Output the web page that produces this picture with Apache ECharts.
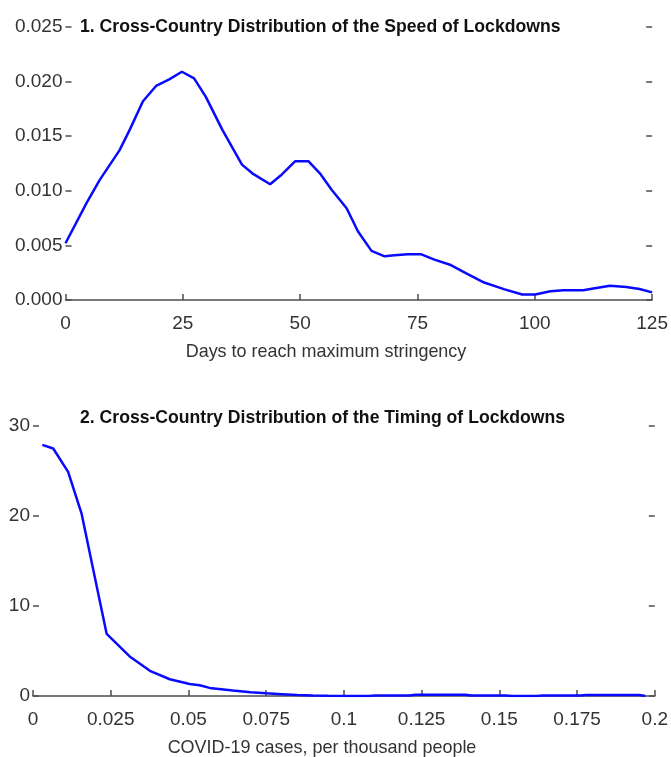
<!DOCTYPE html>
<html>
<head>
<meta charset="utf-8">
<script src="https://cdn.jsdelivr.net/npm/echarts@6/dist/echarts.min.js"></script>
<style>
  html, body { margin: 0; padding: 0; background: #fff; }
  #chart { width: 671px; height: 757px; }
</style>
</head>
<body>
<div id="chart"></div>
<script>
// Panel 1: density of days needed to reach maximum stringency
const speedDays = [0, 4.5, 7.3, 11.5, 13.7, 16.5, 19.3, 22.1, 24.8, 27.4, 29.9, 33.4, 37.6, 39.8, 43.6, 46.1, 48.9, 51.8, 54.2, 56.7, 59.9, 62.3, 65.2, 68.0, 70.1, 72.9, 75.7, 78.6, 82.1, 85.6, 89.2, 93.4, 97.3, 100.1, 103.3, 106.1, 110.3, 113.1, 116, 119.5, 122.3, 125];
const speedDensity = [0.0052, 0.0089, 0.0110, 0.0137, 0.0156, 0.0182, 0.0196, 0.0202, 0.0209, 0.0203, 0.0186, 0.0156, 0.0124, 0.0116, 0.0106, 0.0115, 0.0127, 0.0127, 0.0116, 0.0101, 0.0084, 0.0063, 0.0045, 0.0040, 0.0041, 0.0042, 0.0042, 0.0037, 0.0032, 0.0024, 0.0016, 0.0010, 0.0005, 0.0005, 0.0008, 0.0009, 0.0009, 0.0011, 0.0013, 0.0012, 0.0010, 0.0007];

// Panel 2: density of COVID-19 cases per thousand people at lockdown
const casesPerThousand = [0.003, 0.0065, 0.0113, 0.0156, 0.0194, 0.0237, 0.0311, 0.0376, 0.044, 0.0504, 0.0536, 0.0568, 0.0643, 0.070, 0.075, 0.080, 0.085, 0.090, 0.095, 0.1, 0.108, 0.110, 0.121, 0.123, 0.139, 0.141, 0.152, 0.154, 0.162, 0.164, 0.176, 0.178, 0.195, 0.197];
const casesDensity = [27.9, 27.5, 24.9, 20.3, 14.0, 6.9, 4.4, 2.8, 1.86, 1.33, 1.2, 0.9, 0.6, 0.42, 0.3, 0.2, 0.1, 0.05, 0.02, 0, 0, 0.05, 0.05, 0.15, 0.15, 0.05, 0.05, 0, 0, 0.05, 0.05, 0.12, 0.12, 0];

// Tick labels
const speedXTicks = [0, 25, 50, 75, 100, 125];
const speedYTicks = ['0.000', '0.005', '0.010', '0.015', '0.020', '0.025'];
const casesXTicks = ['0', '0.025', '0.05', '0.075', '0.1', '0.125', '0.15', '0.175', '0.2'];
const casesYTicks = ['0', '10', '20', '30'];

const titles = [
  '1. Cross-Country Distribution of the Speed of Lockdowns',
  '2. Cross-Country Distribution of the Timing of Lockdowns'
];
const axisNames = ['Days to reach maximum stringency', 'COVID-19 cases, per thousand people'];

const labelFont = 'Liberation Sans, Arial, sans-serif';
const titleFont = 'Liberation Sans, Arial, sans-serif';
const axisGray = '#4d4d4d';
const labelColor = '#333';
const lineBlue = '#0a0aff';

const chart = echarts.init(document.getElementById('chart'), null, { renderer: 'canvas' });

function xAxisCfg(gridIndex, min, max, interval, labels) {
  return {
    type: 'value', gridIndex, min, max, interval, z: 3,
    axisLine: { show: true, lineStyle: { color: axisGray, width: 1.5 } },
    axisTick: { show: true, inside: true, length: 6, lineStyle: { color: axisGray, width: 1.5 } },
    splitLine: { show: false },
    axisLabel: {
      margin: 14, color: labelColor, fontFamily: labelFont, fontSize: 19,
      formatter: (v) => {
        const i = Math.round((v - min) / interval);
        return labels[i] !== undefined ? String(labels[i]) : '';
      }
    }
  };
}

function yAxisCfg(gridIndex, min, max, interval, labels, position) {
  return {
    type: 'value', gridIndex, min, max, interval, position,
    axisLine: { show: false },
    axisTick: { show: true, inside: true, length: 6, lineStyle: { color: axisGray, width: 1.5 } },
    splitLine: { show: false },
    axisLabel: {
      show: position === 'left', margin: 3, color: labelColor, fontFamily: labelFont, fontSize: 19,
      formatter: (v) => {
        const i = Math.round((v - min) / interval);
        return labels[i] !== undefined ? labels[i] : '';
      }
    }
  };
}

// Condensed text block for panel titles and axis captions
function caption(text, x, y, font, align, scaleX, fill) {
  return {
    type: 'text', x, y, scaleX,
    style: { text, fill, font, align, verticalAlign: 'middle' }
  };
}

const option = {
  animation: false,
  backgroundColor: '#fff',
  grid: [
    { left: 65.5, right: 15, top: 27, height: 273 },
    { left: 33, right: 15, top: 426, height: 270 }
  ],
  xAxis: [
    xAxisCfg(0, 0, 125, 25, speedXTicks),
    xAxisCfg(1, 0, 0.2, 0.025, casesXTicks)
  ],
  yAxis: [
    yAxisCfg(0, 0, 0.025, 0.005, speedYTicks, 'left'),
    yAxisCfg(0, 0, 0.025, 0.005, speedYTicks, 'right'),
    yAxisCfg(1, 0, 30, 10, casesYTicks, 'left'),
    yAxisCfg(1, 0, 30, 10, casesYTicks, 'right')
  ],
  series: [
    {
      type: 'line', xAxisIndex: 0, yAxisIndex: 0, showSymbol: false, symbol: 'none',
      lineStyle: { color: lineBlue, width: 2.5 },
      data: speedDays.map((d, i) => [d, speedDensity[i]])
    },
    {
      type: 'line', xAxisIndex: 1, yAxisIndex: 2, showSymbol: false, symbol: 'none',
      lineStyle: { color: lineBlue, width: 2.5 },
      data: casesPerThousand.map((c, i) => [c, casesDensity[i]])
    }
  ],
  graphic: [
    caption(titles[0], 80, 27, 'bold 19px ' + titleFont, 'left', 0.927, '#111'),
    caption(titles[1], 80, 418, 'bold 19px ' + titleFont, 'left', 0.927, '#111'),
    caption(axisNames[0], 326, 352, '19px ' + labelFont, 'center', 0.946, labelColor),
    caption(axisNames[1], 322, 748, '19px ' + labelFont, 'center', 0.946, labelColor)
  ]
};

chart.setOption(option);
</script>
</body>
</html>
